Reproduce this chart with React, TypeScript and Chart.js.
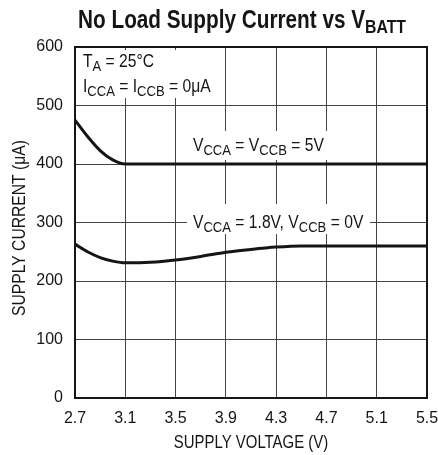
import { useEffect, useRef } from 'react';
import { Chart, registerables } from 'chart.js';

Chart.register(...registerables);

// ---- data ----
const voltage = [2.7, 2.8, 2.9, 3.0, 3.1, 3.3, 3.5, 3.7, 3.9, 4.1, 4.3, 4.5, 4.7, 5.1, 5.5];
const current5V = [475, 447, 423, 407, 400, 400, 400, 400, 400, 400, 400, 400, 400, 400, 400];
const current18V = [263, 250, 240, 234, 231, 232, 236, 242, 249, 254, 258, 260, 260, 260, 260];
const xTicks = [2.7, 3.1, 3.5, 3.9, 4.3, 4.7, 5.1, 5.5];
const yTicks = [0, 100, 200, 300, 400, 500, 600];

const xTitle = 'SUPPLY VOLTAGE (V)';
const yTitle = 'SUPPLY CURRENT (μA)';

const FONT = "'Liberation Sans', Arial, sans-serif";
const INK = '#151515';

type Part = { t: string; sub?: boolean };

function drawRich(ctx: CanvasRenderingContext2D, parts: Part[], x: number, y: number, size: number, subSize: number, squeeze: number, bold = false, subDy = 4, measureOnly = false) {
  ctx.save();
  ctx.translate(x, y);
  ctx.scale(squeeze, 1);
  let cx = 0;
  for (const p of parts) {
    ctx.font = `${bold ? 'bold ' : ''}${p.sub ? subSize : size}px ${FONT}`;
    if (!measureOnly) ctx.fillText(p.t, cx, p.sub ? subDy : 0);
    cx += ctx.measureText(p.t).width;
  }
  ctx.restore();
  return cx * squeeze;
}

const titleParts: Part[] = [{ t: 'No Load Supply Current vs V' }, { t: 'BATT', sub: true }];
const noteTA: Part[] = [{ t: 'T' }, { t: 'A', sub: true }, { t: ' = 25°C' }];
const noteI: Part[] = [{ t: 'I' }, { t: 'CCA', sub: true }, { t: ' = I' }, { t: 'CCB', sub: true }, { t: ' = 0μA' }];
const label5V: Part[] = [{ t: 'V' }, { t: 'CCA', sub: true }, { t: ' = V' }, { t: 'CCB', sub: true }, { t: ' = 5V' }];
const label18V: Part[] = [{ t: 'V' }, { t: 'CCA', sub: true }, { t: ' = 1.8V, V' }, { t: 'CCB', sub: true }, { t: ' = 0V' }];

const annotPlugin = {
  id: 'annot',
  beforeDatasetsDraw(chart: any) {
    const ctx: CanvasRenderingContext2D = chart.ctx;
    const { left, top } = chart.chartArea;
    const A = 0.87;
    ctx.save();
    ctx.fillStyle = '#ffffff';
    ctx.fillRect(left + 2, top + 3, 142, 48);
    ctx.fillRect(left + 112, top + 84, 144, 29);
    ctx.fillRect(left + 112, top + 157, 183, 30);
    ctx.fillStyle = INK;
    ctx.textBaseline = 'alphabetic';
    drawRich(ctx, noteTA, left + 8, top + 20, 18, 15, A);
    drawRich(ctx, noteI, left + 8, top + 45, 18, 15, A);
    drawRich(ctx, label5V, left + 118, top + 104, 18, 15, A);
    drawRich(ctx, label18V, left + 118, top + 181, 18, 15, A);
    ctx.restore();
  },
  afterDraw(chart: any) {
    const ctx: CanvasRenderingContext2D = chart.ctx;
    const { left, top, right, bottom } = chart.chartArea;
    ctx.save();
    ctx.strokeStyle = INK;
    ctx.lineWidth = 2;
    ctx.strokeRect(left, top, right - left, bottom - top);
    ctx.fillStyle = INK;
    ctx.textBaseline = 'alphabetic';
    // chart title
    const w = drawRich(ctx, titleParts, 0, 0, 25, 19, 0.83, true, 5, true);
    drawRich(ctx, titleParts, 242 - w / 2, 28, 25, 19, 0.83, true, 5);
    // x axis title
    const xp: Part[] = [{ t: xTitle }];
    const xw = drawRich(ctx, xp, 0, 0, 18, 18, 0.83, false, 0, true);
    drawRich(ctx, xp, (left + right) / 2 - xw / 2, 448, 18, 18, 0.83);
    // y axis title (rotated)
    const yp: Part[] = [{ t: yTitle }];
    const yw = drawRich(ctx, yp, 0, 0, 18, 18, 0.87, false, 0, true);
    ctx.save();
    ctx.translate(25, 228);
    ctx.rotate(-Math.PI / 2);
    drawRich(ctx, yp, -yw / 2, 0, 18, 18, 0.87);
    ctx.restore();
    ctx.restore();
  },
};

export default function App() {
  const ref = useRef<HTMLCanvasElement | null>(null);
  useEffect(() => {
    document.body.style.margin = '0';
    if (!ref.current) return;
    const chart = new Chart(ref.current, {
      type: 'line',
      data: {
        datasets: [
          {
            label: 'VCCA = VCCB = 5V',
            data: voltage.map((v, i) => ({ x: v, y: current5V[i] })),
            borderColor: INK,
            borderWidth: 3,
            pointRadius: 0,
            cubicInterpolationMode: 'monotone',
            fill: false,
          },
          {
            label: 'VCCA = 1.8V, VCCB = 0V',
            data: voltage.map((v, i) => ({ x: v, y: current18V[i] })),
            borderColor: INK,
            borderWidth: 3,
            pointRadius: 0,
            cubicInterpolationMode: 'monotone',
            fill: false,
          },
        ],
      },
      options: {
        animation: false,
        responsive: true,
        maintainAspectRatio: false,
        layout: { padding: { top: 47, right: 11, left: 0, bottom: 0 } },
        plugins: { legend: { display: false }, tooltip: { enabled: false }, title: { display: false } },
        scales: {
          x: {
            type: 'linear',
            min: 2.7,
            max: 5.5,
            afterBuildTicks: (s: any) => { s.ticks = xTicks.map((v) => ({ value: v })); },
            afterFit: (s: any) => { s.height = 57; s.paddingLeft = 0; s.paddingRight = 0; },
            grid: { color: '#444', lineWidth: 1, drawTicks: false },
            border: { display: false },
            ticks: {
              padding: 11,
              color: INK,
              font: { family: FONT, size: 16 },
              maxRotation: 0,
              autoSkip: false,
              callback: (v: any) => Number(v).toFixed(1),
            },
            title: { display: false, text: xTitle },
          },
          y: {
            type: 'linear',
            min: 0,
            max: 600,
            afterBuildTicks: (s: any) => { s.ticks = yTicks.map((v) => ({ value: v })); },
            afterFit: (s: any) => { s.width = 75; s.paddingTop = 0; s.paddingBottom = 0; },
            grid: { color: '#444', lineWidth: 1, drawTicks: false },
            border: { display: false },
            ticks: {
              padding: 12,
              color: INK,
              font: { family: FONT, size: 16 },
              autoSkip: false,
            },
            title: { display: false, text: yTitle },
          },
        },
      },
      plugins: [annotPlugin],
    } as any);
    return () => chart.destroy();
  }, []);
  return (
    <div style={{ position: 'relative', width: 438, height: 455 }}>
      <canvas ref={ref} />
    </div>
  );
}
